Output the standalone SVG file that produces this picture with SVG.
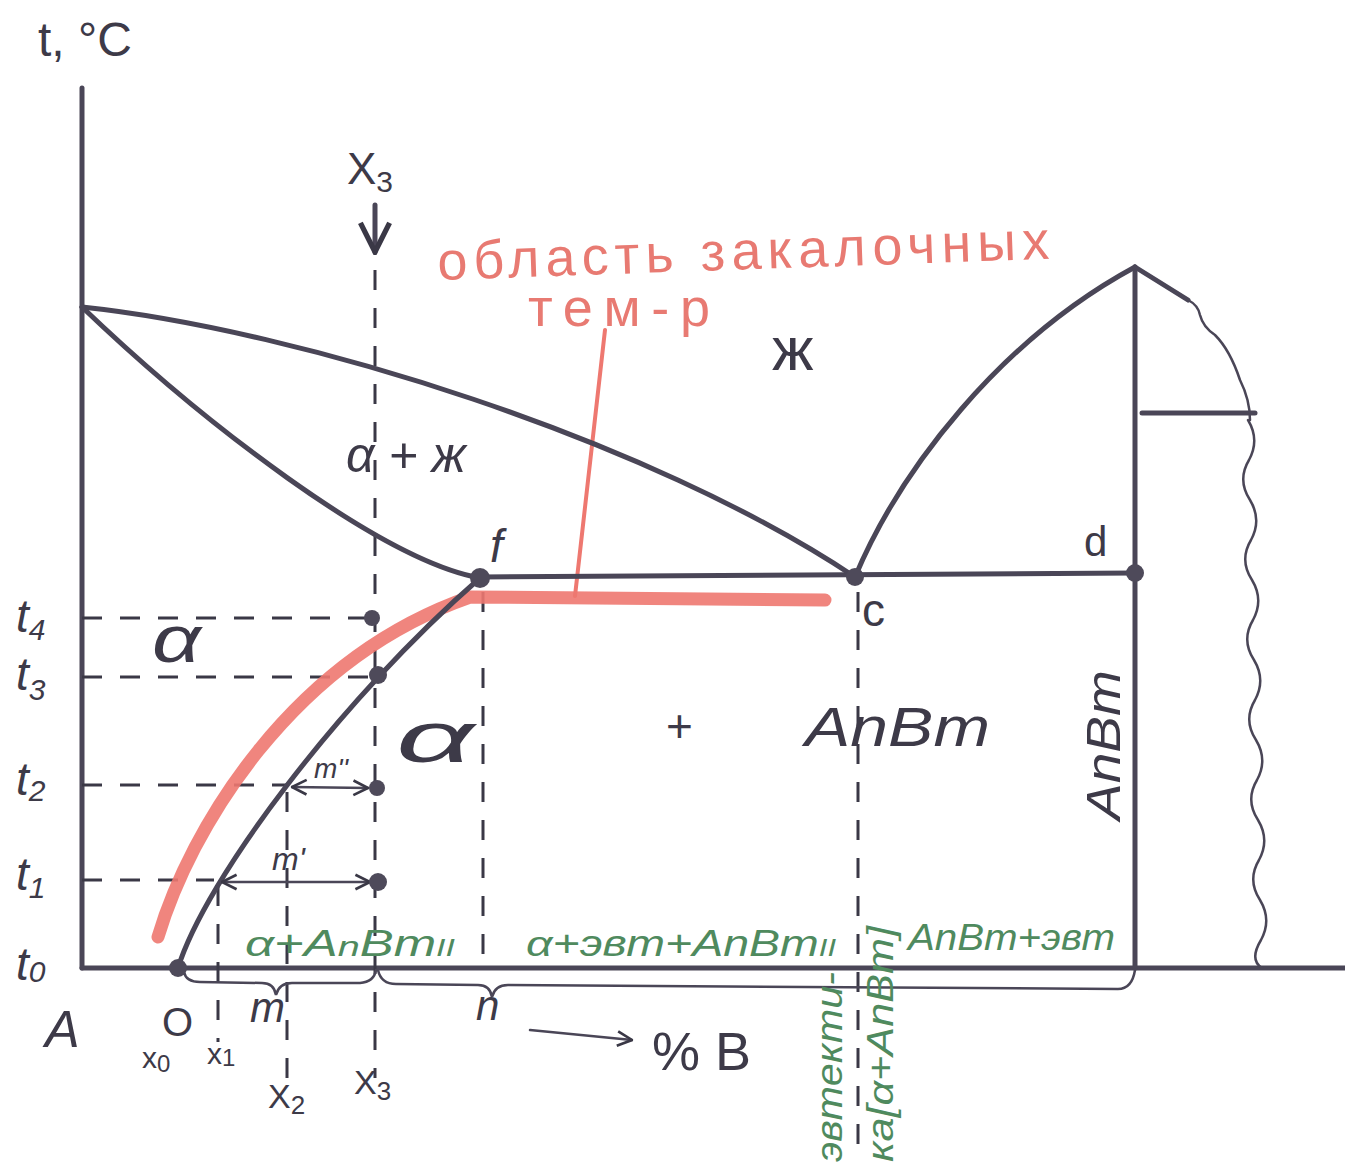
<svg xmlns="http://www.w3.org/2000/svg" width="1345" height="1170" viewBox="0 0 1345 1170">
<defs>
<style>
.ln{fill:none;stroke:#4a4657;stroke-width:5;stroke-linecap:round;stroke-linejoin:round}
.th{fill:none;stroke:#4a4657;stroke-width:2.5;stroke-linecap:round}
.ds{fill:none;stroke:#3a3846;stroke-width:3;stroke-dasharray:20 18}
.red{fill:none;stroke:#ee7870;stroke-linecap:round}
.dot{fill:#4e4a5a}
.tx{font-family:"Liberation Sans","DejaVu Sans",sans-serif;fill:#3d3a48}
.it{font-style:italic}
.gr{font-family:"Liberation Sans","DejaVu Sans",sans-serif;fill:#4f8a5e;font-style:italic;font-size:36px}
.rt{font-family:"Liberation Sans","DejaVu Sans",sans-serif;fill:#e87a72;font-size:54px}
</style>
<marker id="ah" viewBox="0 0 12 12" refX="11" refY="6" markerWidth="7" markerHeight="7" orient="auto-start-reverse" markerUnits="strokeWidth">
<path d="M1,1 L11,6 L1,11" fill="none" stroke="#3a3846" stroke-width="1.8"/>
</marker>
</defs>
<rect width="1345" height="1170" fill="#ffffff"/>

<g id="axes">
<path class="ln" d="M82,88 L82,968" stroke-width="4"/>
<path class="ln" d="M82,968 L1345,968" stroke-width="4"/>
</g>

<g id="connectors">
<path class="ds" d="M375,270 L375,1078"/>
<path class="ds" d="M82,618 L366,618"/>
<path class="ds" d="M82,677 L372,677"/>
<path class="ds" d="M82,785 L288,785"/>
<path class="ds" d="M82,880 L214,880"/>
<path class="ds" d="M218,886 L218,1042"/>
<path class="ds" d="M287,792 L287,1092"/>
<path class="ds" d="M483,592 L483,962"/>
<path class="ds" d="M858,592 L858,1162"/>
<path class="red" stroke-width="13" stroke-opacity="0.9" d="M158,937 C190,830 290,660 470,597 L825,600"/>
<path class="red" stroke-width="4" d="M605,330 L575,596"/>
<path class="ln" d="M82,307 C300,330 650,440 855,577"/>
<path class="ln" d="M82,307 C200,420 380,560 480,578"/>
<path class="ln" d="M480,577 L1135,573"/>
<path class="ln" d="M855,577 C900,470 1000,340 1135,267"/>
<path class="ln" d="M1135,267 L1135,968"/>
<path class="ln" d="M178,968 C205,880 340,700 480,578" stroke-width="4.5"/>
<path class="ln" d="M1135,267 L1188,300" stroke-width="4"/>
<path class="th" d="M1188,300 q10,5 12,15 q3,12 15,20 q15,15 25,45 q10,20 10,40"/>
<path class="th" d="M1248,420 q12,20 1,40 q-12,20 1,40 q12,20 1,40 q-12,20 1,40 q12,20 1,40 q-12,20 1,40 q12,20 1,40 q-12,20 1,40 q12,20 1,40 q-12,20 1,40 q12,20 1,40 q-12,20 1,40 q12,20 1,40 q-12,20 1,28"/>
<path class="ln" d="M1142,413 L1255,413" stroke-width="4"/>
<path class="ln" d="M375,205 L375,252" stroke-width="4" marker-end="url(#ah)"/>
<path class="th" stroke-width="3.5" d="M292,787 L368,788" marker-start="url(#ah)" marker-end="url(#ah)"/>
<path class="th" stroke-width="3.5" d="M222,882 L370,882" marker-start="url(#ah)" marker-end="url(#ah)"/>
<path class="th" stroke-width="3.5" d="M530,1030 L632,1040" marker-end="url(#ah)"/>
<path class="th" d="M184,972 Q186,982 200,982 L262,983 Q274,983 276,995 Q279,983 292,983 L360,983 Q374,982 376,970"/>
<path class="th" d="M378,970 Q381,984 396,984 L478,985 Q490,985 492,997 Q495,985 508,985 L1118,989 Q1132,989 1135,970"/>
</g>

<g id="points">
<circle class="dot" cx="178" cy="968" r="9"/>
<circle class="dot" cx="480" cy="578" r="10"/>
<circle class="dot" cx="855" cy="577" r="9"/>
<circle class="dot" cx="1135" cy="573" r="9"/>
<circle class="dot" cx="372" cy="618" r="8"/>
<circle class="dot" cx="378" cy="675" r="9"/>
<circle class="dot" cx="377" cy="788" r="8"/>
<circle class="dot" cx="378" cy="882" r="9"/>
</g>

<g id="labels">
<text class="tx" x="38" y="56" font-size="48">t, °C</text>
<text class="tx" x="347" y="184" font-size="44">X<tspan font-size="30" dy="8">3</tspan></text>
<text class="tx it" x="16" y="632" font-size="46">t<tspan font-size="30" dy="8">4</tspan></text>
<text class="tx it" x="16" y="690" font-size="46">t<tspan font-size="30" dy="10">3</tspan></text>
<text class="tx it" x="16" y="795" font-size="46">t<tspan font-size="30" dy="6">2</tspan></text>
<text class="tx it" x="16" y="890" font-size="46">t<tspan font-size="30" dy="8">1</tspan></text>
<text class="tx it" x="16" y="980" font-size="46">t<tspan font-size="30" dy="2">0</tspan></text>
<text class="tx it" x="45" y="1047" font-size="52">A</text>
<text class="tx" x="162" y="1036" font-size="40">O</text>
<text class="tx" x="142" y="1068" font-size="30">x<tspan font-size="24" dy="4">0</tspan></text>
<text class="tx" x="207" y="1064" font-size="30">x<tspan font-size="24" dy="2">1</tspan></text>
<text class="tx" x="268" y="1108" font-size="34">X<tspan font-size="26" dy="6">2</tspan></text>
<text class="tx" x="354" y="1094" font-size="34">X<tspan font-size="26" dy="6">3</tspan></text>
<text class="tx it" x="250" y="1022" font-size="42">m</text>
<text class="tx it" x="476" y="1020" font-size="42">n</text>
<text class="tx" x="652" y="1070" font-size="54">% B</text>
<text class="tx it" transform="translate(152,662) scale(1.3,1)" font-size="66">α</text>
<text class="tx it" x="346" y="472" font-size="50">α + ж</text>
<text class="tx" x="772" y="370" font-size="62">ж</text>
<text class="tx it" x="490" y="562" font-size="46">f</text>
<text class="tx" x="862" y="626" font-size="46">c</text>
<text class="tx" x="1084" y="556" font-size="42">d</text>
<text class="tx it" transform="translate(396,762) scale(1.9,1)" font-size="72">α</text>
<text class="tx" x="666" y="742" font-size="46">+</text>
<text class="tx it" x="805" y="746" font-size="56" textLength="185" lengthAdjust="spacingAndGlyphs">AnBm</text>
<text class="tx it" transform="translate(1120,820) rotate(-90)" font-size="48" textLength="150" lengthAdjust="spacingAndGlyphs">AnBm</text>
<text class="tx it" x="314" y="778" font-size="28">m''</text>
<text class="tx it" x="272" y="870" font-size="32">m'</text>
</g>

<g id="region-labels">
<text class="gr" x="245" y="956" textLength="210" lengthAdjust="spacingAndGlyphs">α+A<tspan font-size="28">n</tspan>Bm<tspan font-size="24">II</tspan></text>
<text class="gr" x="526" y="956" textLength="310" lengthAdjust="spacingAndGlyphs">α+эвт+AnBm<tspan font-size="24">II</tspan></text>
<text class="gr" x="908" y="950" textLength="207" lengthAdjust="spacingAndGlyphs">AnBm+эвт</text>
<text class="gr" transform="translate(842,1162) rotate(-90)" textLength="190" lengthAdjust="spacingAndGlyphs">эвтекти-</text>
<text class="gr" transform="translate(893,1162) rotate(-90)" textLength="236" lengthAdjust="spacingAndGlyphs">ка[α+AnBm]</text>
</g>

<g id="quench-label">
<text class="rt" transform="rotate(-2 440 280)" x="438" y="280" textLength="612" lengthAdjust="spacing">область закалочных</text>
<text class="rt" x="528" y="326" textLength="182" lengthAdjust="spacing">тем-р</text>
</g>
</svg>
